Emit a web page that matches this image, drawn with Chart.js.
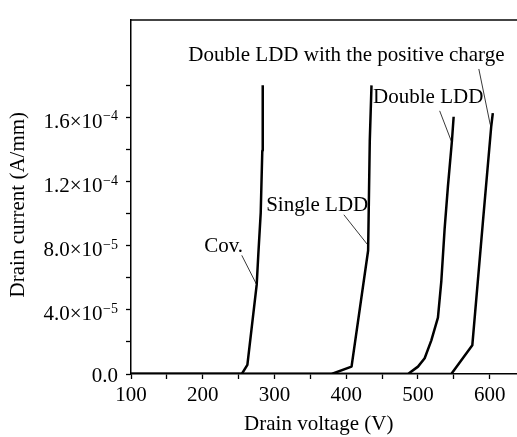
<!DOCTYPE html>
<html><head><meta charset="utf-8">
<script src="https://cdn.jsdelivr.net/npm/chart.js@4.4.0/dist/chart.umd.min.js"></script>
<style>html,body{margin:0;padding:0;background:#fff;}#wrap{width:517px;height:437px;}</style>
</head><body><div id="wrap"><canvas id="c" width="517" height="437"></canvas></div>
<script>
// ---- data ----
const seriesNames = ['Cov.', 'Single LDD', 'Double LDD', 'Double LDD with the positive charge'];
const covV = [100, 254.4, 262.2, 275.2, 277.5, 280.8, 283.0, 283.6];
const covI = [0, 0, 5.7e-6, 5.57e-5, 7.5e-5, 1.005e-4, 1.392e-4, 1.8e-4];
const singleV = [100, 379.6, 407.4, 430.5, 432.8, 435.2];
const singleI = [0, 0, 4.6e-6, 7.7e-5, 1.453e-4, 1.8e-4];
const doubleV = [100, 486.1, 500.0, 509.3, 518.6, 527.8, 532.5, 537.1, 541.7, 547.3, 549.7];
const doubleI = [0, 0, 4.6e-6, 9.8e-6, 2.1e-5, 3.52e-5, 5.77e-5, 9.03e-5, 1.168e-4, 1.453e-4, 1.604e-4];
const posV = [100, 546.4, 575.7, 590.4, 602.1, 604.3];
const posI = [0, 0, 1.79e-5, 9.44e-5, 1.545e-4, 1.627e-4];

const xTickValues = [100, 150, 200, 250, 300, 350, 400, 450, 500, 550, 600];
const xTickLabels = ['100', '', '200', '', '300', '', '400', '', '500', '', '600'];
const yTickValues = [0, 2e-5, 4e-5, 6e-5, 8e-5, 1e-4, 1.2e-4, 1.4e-4, 1.6e-4, 1.8e-4];
const yTickMantissa = ['0.0', '', '4.0×10', '', '8.0×10', '', '1.2×10', '', '1.6×10', ''];
const yTickExponent = ['', '', '−5', '', '−5', '', '−4', '', '−4', ''];
const xRange = [100, 638];
const yRange = [0, 2.21e-4];

// annotation labels (centre, baseline) and pointer lines, in data units
const labelText = ['Double LDD with the positive charge', 'Double LDD', 'Single LDD', 'Cov.'];
const labelV = [400.2, 514.2, 359.5, 229.1];
const labelI = [1.953e-4, 1.688e-4, 1.015e-4, 7.60e-5];
const pointerV = [[254.4, 275.2], [396.7, 429.3], [530.2, 546.4], [584.8, 600.7]];
const pointerI = [[7.40e-5, 5.57e-5], [9.93e-5, 8.09e-5], [1.641e-4, 1.453e-4], [1.902e-4, 1.555e-4]];

const toPts = (xs, ys) => xs.map((x, i) => ({x: x, y: ys[i]}));
const FONT = 'Liberation Serif, Times New Roman, serif';

const datasets = [
  [covV, covI], [singleV, singleI], [doubleV, doubleI], [posV, posI]
].map((s, k) => ({
  label: seriesNames[k], data: toPts(s[0], s[1]),
  borderColor: '#000', borderWidth: 2.5, pointRadius: 0, tension: 0, fill: false,
  borderJoinStyle: 'round'
}));
pointerV.forEach((pv, k) => datasets.push({
  label: 'pointer' + k, data: toPts(pv, pointerI[k]),
  borderColor: '#222', borderWidth: 0.9, pointRadius: 0, tension: 0, fill: false
}));

const labelPlugin = {
  id: 'labels',
  afterDatasetsDraw(chart) {
    const ctx = chart.ctx, xs = chart.scales.x, ys = chart.scales.y;
    ctx.save();
    ctx.fillStyle = '#000';
    ctx.textBaseline = 'alphabetic';
    // annotation labels
    ctx.font = '21px ' + FONT;
    ctx.textAlign = 'center';
    labelText.forEach((t, i) => ctx.fillText(t, xs.getPixelForValue(labelV[i]), ys.getPixelForValue(labelI[i])));
    // y tick labels with raised exponents
    const right = ys.right - 5 - 8;
    ctx.textAlign = 'right';
    yTickValues.forEach((v, i) => {
      const m = yTickMantissa[i];
      if (!m) return;
      const y = ys.getPixelForValue(v);
      const e = yTickExponent[i];
      if (e) {
        ctx.font = '14px ' + FONT;
        const ew = ctx.measureText(e).width;
        ctx.fillText(e, right, y + 3);
        ctx.font = '21px ' + FONT;
        ctx.fillText(m, right - ew - 0.5, y + 10.5);
      } else {
        ctx.font = '21px ' + FONT;
        ctx.fillText(m, right, y + 8);
      }
    });
    ctx.restore();
  }
};

new Chart(document.getElementById('c'), {
  type: 'line',
  data: {datasets: datasets},
  plugins: [labelPlugin],
  options: {
    responsive: false, animation: false, devicePixelRatio: 1,
    layout: {padding: {top: 13, left: 0, right: 0, bottom: 0}},
    plugins: {legend: {display: false}, tooltip: {enabled: false}},
    scales: {
      x: {
        type: 'linear', position: 'bottom', min: xRange[0], max: xRange[1],
        afterBuildTicks: s => { s.ticks = xTickValues.map(v => ({value: v})); },
        afterFit: s => { s.height = 63; },
        ticks: {
          autoSkip: false, maxRotation: 0, padding: 4, color: '#000',
          font: {family: FONT, size: 21},
          callback: (v) => { const i = xTickValues.indexOf(v); return i >= 0 ? xTickLabels[i] : ''; }
        },
        grid: {display: true, drawOnChartArea: false, tickLength: 5, tickColor: '#000', tickWidth: 1.3},
        border: {display: true, color: '#000', width: 1.5},
        title: {display: true, text: 'Drain voltage (V)  ', color: '#000', font: {family: FONT, size: 21}, padding: {top: 0, bottom: 0}}
      },
      x2: {
        type: 'linear', position: 'top', min: xRange[0], max: xRange[1],
        afterFit: s => { s.height = 0; },
        ticks: {display: false},
        grid: {display: false},
        border: {display: true, color: '#444', width: 2}
      },
      y: {
        type: 'linear', position: 'left', min: yRange[0], max: yRange[1],
        afterBuildTicks: s => { s.ticks = yTickValues.map(v => ({value: v})); },
        afterFit: s => { s.width = 131; },
        ticks: {
          autoSkip: false, padding: 7, color: '#000',
          font: {family: FONT, size: 21},
          callback: () => ''
        },
        grid: {display: true, drawOnChartArea: false, tickLength: 5, tickColor: '#000', tickWidth: 1.3},
        border: {display: true, color: '#000', width: 1.5},
        title: {display: true, text: 'Drain current (A/mm)   ', color: '#000', font: {family: FONT, size: 21}, padding: {top: 6, bottom: 6}}
      }
    }
  }
});
</script>
</body></html>
